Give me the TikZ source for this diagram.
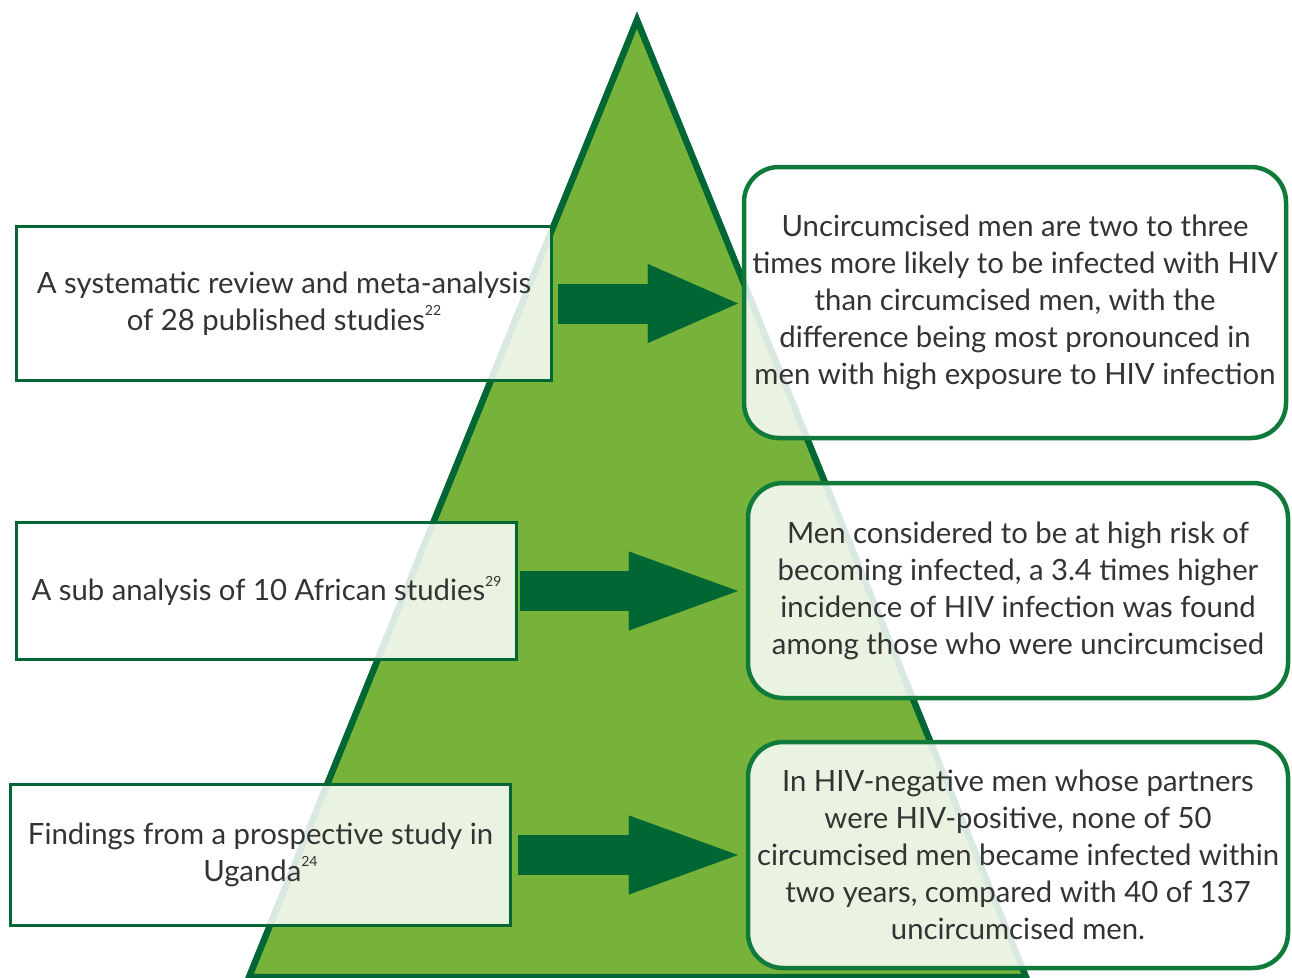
\documentclass[tikz,border=0pt]{standalone}
\usepackage{fontspec}
\setmainfont{Lato}
\usetikzlibrary{arrows.meta, positioning}

\definecolor{pyrfill}{RGB}{119,178,58}
\definecolor{pyredge}{RGB}{0,102,51}
\definecolor{boxedge}{RGB}{16,122,58}
\definecolor{txtgrey}{RGB}{51,51,51}
\newcommand{\refnum}[1]{\raisebox{0.5em}{\fontsize{14}{14}\selectfont #1}}

\begin{document}
\begin{tikzpicture}[x=1pt, y=-1pt, font=\fontsize{29.3}{37}\selectfont, text=txtgrey,
    source/.style={draw=pyredge, line width=3pt, fill=white, fill opacity=0.85, text opacity=1, align=center, inner sep=0pt},
    finding/.style={draw=boxedge, line width=4.5pt, rounded corners=35pt, fill=white, fill opacity=0.85, text opacity=1, align=center, inner sep=0pt},
    bigarrow/.style={draw=pyredge, line width=40pt}]
        \useasboundingbox (0,0) rectangle (1292,977);
        % pyramid
        \begin{scope}
            \clip (0,0) rectangle (1292,977);
            \filldraw[fill=pyrfill, draw=pyredge, line width=6.5pt, line join=miter] (637,20) -- (1026,977) -- (249,977) -- cycle;
        \end{scope}

        \node[source, minimum width=535pt, minimum height=154pt] (src1) at (284,303.5) {A systematic review and meta-analysis\\of 28 published studies\refnum{22}};
        \node[source, minimum width=500pt, minimum height=137pt] (src2) at (266.5,591) {A sub analysis of 10 African studies\refnum{29}};
        \node[source, minimum width=500pt, minimum height=141pt] (src3) at (260.5,855) {Findings from a prospective study in\\Uganda\refnum{24}};

        \node[finding, minimum width=542pt, minimum height=271pt] (fnd1) at (1015,302.5) {Uncircumcised men are two to three\\times more likely to be infected with HIV\\than circumcised men, with the\\difference being most pronounced in\\men with high exposure to HIV infection};
        \node[finding, minimum width=540pt, minimum height=215pt] (fnd2) at (1018,590.5) {Men considered to be at high risk of\\becoming infected, a 3.4 times higher\\incidence of HIV infection was found\\among those who were uncircumcised};
        \node[finding, minimum width=540pt, minimum height=226pt] (fnd3) at (1018,855) {In HIV-negative men whose partners\\were HIV-positive, none of 50\\circumcised men became infected within\\two years, compared with 40 of 137\\uncircumcised men.};

        \draw[bigarrow, -{Triangle[length=90pt, width=79pt, line width=0.1pt]}] ([xshift=5pt]src1.east) -- ([xshift=-4pt]src1.east -| fnd1.west);
        \draw[bigarrow, -{Triangle[length=109pt, width=79pt, line width=0.1pt]}] ([xshift=2pt]src2.east) -- ([xshift=-8pt]src2.east -| fnd2.west);
        \draw[bigarrow, -{Triangle[length=109pt, width=79pt, line width=0.1pt]}] ([xshift=6pt]src3.east) -- ([xshift=-8pt]src3.east -| fnd3.west);
    \end{tikzpicture}
\end{document}
